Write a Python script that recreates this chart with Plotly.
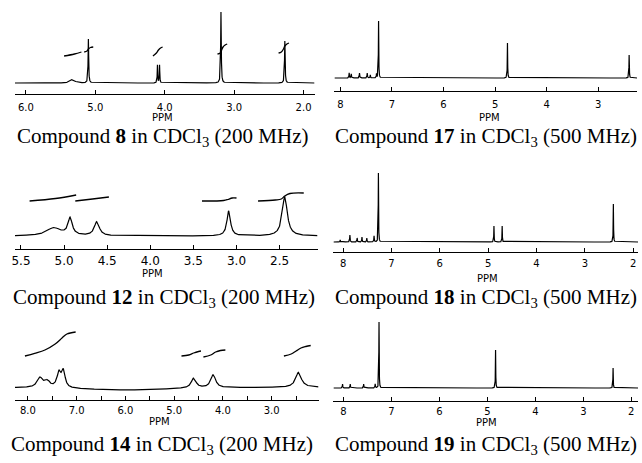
import numpy as np
import plotly.graph_objects as go

W, H = 642, 463

# ---------------- data ----------------
# peaks: position (ppm), height (px above baseline), half width (ppm)
c8_ppm = [5.33, 5.10, 4.105, 4.075, 3.19, 2.27]
c8_height = [3.5, 44, 18, 18, 71, 42]
c8_width = [0.04, 0.005, 0.004, 0.004, 0.005, 0.005]
c8_int_ppm = [[5.45, 5.30, 5.20], [5.16, 5.12, 5.10, 5.07, 5.03],
              [4.17, 4.12, 4.09, 4.06, 4.03], [3.24, 3.20, 3.18, 3.16, 3.13, 3.10],
              [2.36, 2.32, 2.29, 2.27, 2.24, 2.21]]
c8_int_y = [[27, 29, 31], [31, 32, 34, 35.5, 36],
            [27, 30, 33, 35, 36], [29, 30, 33, 36, 38, 39],
            [30, 31, 34, 37, 39, 40]]
c8_ticks = [6.0, 5.0, 4.0, 3.0, 2.0]
c8_ticktext = ["6.0", "5.0", "4.0", "3.0", "2.0"]
c8_minor = []

c17_ppm = [7.83, 7.79, 7.63, 7.48, 7.42, 7.30, 7.26, 4.76, 2.40]
c17_height = [5, 4, 5, 5, 3, 4, 57, 35, 23]
c17_width = [0.005, 0.005, 0.005, 0.005, 0.005, 0.005, 0.004, 0.004, 0.004]
c17_ticks = [8, 7, 6, 5, 4, 3]
c17_ticktext = ["8", "7", "6", "5", "4", "3"]
c17_minor = []

c12_ppm = [5.12, 4.93, 4.62, 3.09, 2.44]
c12_height = [8, 17, 14, 25, 39]
c12_width = [0.10, 0.03, 0.035, 0.025, 0.035]
c12_int_ppm = [[5.40, 5.10, 4.86], [4.87, 4.67, 4.48],
               [3.40, 3.15, 3.10, 3.05, 3.00], [2.75, 2.55, 2.48, 2.44, 2.38, 2.22]]
c12_int_y = [[35, 37.5, 41], [35, 37, 39],
             [35, 35.5, 36.5, 38, 38], [35, 36, 37, 40, 42.5, 43]]
c12_ticks = [5.5, 5.0, 4.5, 4.0, 3.5, 3.0, 2.5]
c12_ticktext = ["5.5", "5.0", "4.5", "4.0", "3.5", "3.0", "2.5"]
c12_minor = []

c18_ppm = [8.06, 7.86, 7.71, 7.61, 7.51, 7.36, 7.27, 4.88, 4.71, 2.41]
c18_height = [2, 7, 4, 5, 4, 6, 69, 16, 16, 38]
c18_width = [0.005, 0.005, 0.005, 0.005, 0.005, 0.005, 0.004, 0.004, 0.004, 0.004]
c18_ticks = [8, 7, 6, 5, 4, 3, 2]
c18_ticktext = ["8", "7", "6", "5", "4", "3", "2"]
c18_minor = []

c14_ppm = [7.75, 7.60, 7.36, 7.27, 6.0, 4.60, 4.20, 2.45]
c14_height = [10, 6, 15, 16, -3, 10, 13, 15]
c14_width = [0.07, 0.06, 0.05, 0.04, 1.2, 0.06, 0.06, 0.07]
c14_int_ppm = [[8.06, 7.86, 7.65, 7.44, 7.30, 7.20, 7.02],
               [4.85, 4.70, 4.60, 4.50, 4.45],
               [4.40, 4.25, 4.15, 4.05, 3.95],
               [2.75, 2.60, 2.50, 2.40, 2.30, 2.20]]
c14_int_y = [[31, 33.7, 37, 43, 49, 53, 55],
             [31, 32, 34, 35.5, 36],
             [30, 32, 35, 36.5, 37],
             [31, 33, 36, 39, 40.5, 41.5]]
c14_ticks = [8.0, 7.0, 6.0, 5.0, 4.0, 3.0]
c14_ticktext = ["8.0", "7.0", "6.0", "5.0", "4.0", "3.0"]
c14_minor = [7.5, 6.5, 5.5, 4.5, 3.5, 2.5]

c19_ppm = [8.02, 7.86, 7.58, 7.34, 7.26, 4.83, 2.38]
c19_height = [4, 4, 4, 4, 66, 38, 20]
c19_width = [0.005, 0.005, 0.005, 0.005, 0.004, 0.004, 0.004]
c19_ticks = [8, 7, 6, 5, 4, 3, 2]
c19_ticktext = ["8", "7", "6", "5", "4", "3", "2"]
c19_minor = []

captions = ["Compound <b>8</b> in CDCl<sub>3</sub> (200 MHz)",
            "Compound <b>17</b> in CDCl<sub>3</sub> (500 MHz)",
            "Compound <b>12</b> in CDCl<sub>3</sub> (200 MHz)",
            "Compound <b>18</b> in CDCl<sub>3</sub> (500 MHz)",
            "Compound <b>14</b> in CDCl<sub>3</sub> (200 MHz)",
            "Compound <b>19</b> in CDCl<sub>3</sub> (500 MHz)"]

# ---------------- layout of the panels (pixels) ----------------
panels = [
    dict(peaks=(c8_ppm, c8_height, c8_width), ints=(c8_int_ppm, c8_int_y),
         ticks=(c8_ticks, c8_ticktext, c8_minor), x0=12, x1=313, xl=6.158, xr=1.842,
         top=2, base=83, axis=94, ppm_lab=(160, 117), cap=(160, 137), tfs=10, so=4),
    dict(peaks=(c17_ppm, c17_height, c17_width), ints=None,
         ticks=(c17_ticks, c17_ticktext, c17_minor), x0=333, x1=637, xl=8.116, xr=2.247,
         top=2, base=78, axis=91, ppm_lab=(489, 117), cap=(485, 137), tfs=10, so=4),
    dict(peaks=(c12_ppm, c12_height, c12_width), ints=(c12_int_ppm, c12_int_y),
         ticks=(c12_ticks, c12_ticktext, c12_minor), x0=12, x1=316, xl=5.57, xr=2.06,
         top=160, base=236, axis=249, ppm_lab=(150, 273), cap=(162, 298), tfs=12, so=0),
    dict(peaks=(c18_ppm, c18_height, c18_width), ints=None,
         ticks=(c18_ticks, c18_ticktext, c18_minor), x0=332, x1=638, xl=8.2, xr=1.9,
         top=160, base=242, axis=252, ppm_lab=(487, 278), cap=(485, 298), tfs=10, so=2),
    dict(peaks=(c14_ppm, c14_height, c14_width), ints=(c14_int_ppm, c14_int_y),
         ticks=(c14_ticks, c14_ticktext, c14_minor), x0=12, x1=317, xl=8.265, xr=2.04,
         top=315, base=387, axis=400, ppm_lab=(157, 421), cap=(160, 445), tfs=10, so=1),
    dict(peaks=(c19_ppm, c19_height, c19_width), ints=None,
         ticks=(c19_ticks, c19_ticktext, c19_minor), x0=332, x1=638, xl=8.21, xr=1.86,
         top=315, base=388, axis=401, ppm_lab=(486, 422), cap=(485, 445), tfs=10, so=1),
]

fig = go.Figure()
layout = dict(width=W, height=H, margin=dict(l=0, r=0, t=0, b=0),
              paper_bgcolor="white", plot_bgcolor="white", showlegend=False,
              annotations=[])

for i, p in enumerate(panels, start=1):
    xa = "x" if i == 1 else f"x{i}"
    ya = "y" if i == 1 else f"y{i}"
    pos, hts, wid = p["peaks"]
    grid = np.concatenate([np.linspace(p["xr"], p["xl"], 5000), np.array(pos)])
    grid = np.sort(grid)
    spec = np.zeros_like(grid)
    for c, h, w in zip(pos, hts, wid):
        spec += h / (1.0 + ((grid - c) / w) ** 2)
    fig.add_trace(go.Scatter(x=grid, y=spec, mode="lines", xaxis=xa, yaxis=ya,
                             line=dict(color="black", width=1.2), hoverinfo="skip"))
    if p["ints"] is not None:
        for xs, ys in zip(*p["ints"]):
            fig.add_trace(go.Scatter(x=xs, y=ys, mode="lines", xaxis=xa, yaxis=ya,
                                     line=dict(color="black", width=1.3, shape="spline"),
                                     hoverinfo="skip"))
    tv, tt, mv = p["ticks"]
    xdef = dict(
        domain=[p["x0"] / W, p["x1"] / W], anchor=ya, range=[p["xl"], p["xr"]],
        showline=True, linecolor="black", linewidth=1.3, mirror=False,
        ticks="inside", ticklen=4, tickwidth=1, tickcolor="black",
        tickmode="array", tickvals=tv, ticktext=tt, showgrid=False, zeroline=False,
        tickfont=dict(family="DejaVu Sans", size=p["tfs"], color="black"),
        ticklabelstandoff=p["so"], fixedrange=True)
    if mv:
        xdef["minor"] = dict(tickmode="array", tickvals=mv, ticks="inside", ticklen=4,
                             tickwidth=1, tickcolor="black", showgrid=False)
    layout["xaxis" if i == 1 else f"xaxis{i}"] = xdef
    layout["yaxis" if i == 1 else f"yaxis{i}"] = dict(
        domain=[1 - p["axis"] / H, 1 - p["top"] / H], anchor=xa,
        range=[-(p["axis"] - p["base"]), p["base"] - p["top"]],
        visible=False, fixedrange=True)
    layout["annotations"].append(dict(
        text="PPM", x=p["ppm_lab"][0] / W, y=1 - p["ppm_lab"][1] / H,
        xref="paper", yref="paper", showarrow=False, xanchor="center", yanchor="middle",
        font=dict(family="DejaVu Sans", size=10, color="black")))
    layout["annotations"].append(dict(
        text=captions[i - 1], x=p["cap"][0] / W, y=1 - p["cap"][1] / H,
        xref="paper", yref="paper", showarrow=False, xanchor="center", yanchor="middle",
        font=dict(family="Liberation Serif", size=21, color="black")))

fig.update_layout(**layout)
fig.write_html("out.html", config={"displayModeBar": False},
               post_script="document.body.style.margin='0';"
                           "document.body.style.overflow='hidden';")
